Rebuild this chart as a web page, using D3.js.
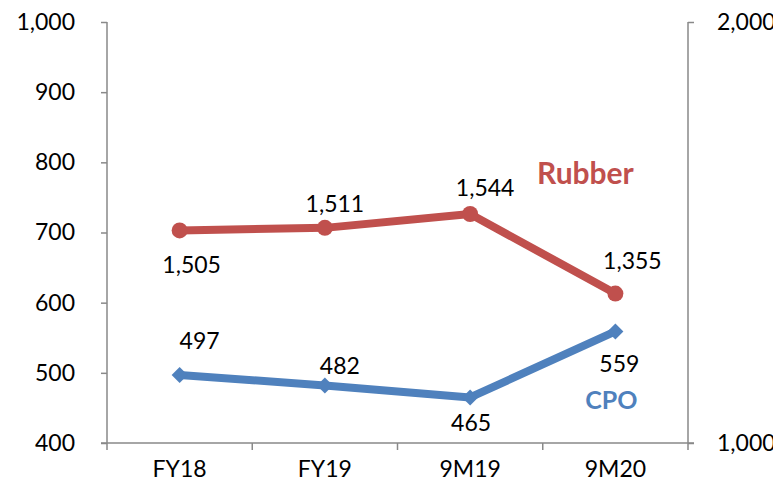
<!DOCTYPE html>
<html>
<head>
<meta charset="utf-8">
<script src="https://cdn.jsdelivr.net/npm/d3@7"></script>
<style>
  body { margin: 0; background: #fff; }
  svg text { font-family: Lato, "Open Sans", sans-serif; }
</style>
</head>
<body>
<div id="chart"></div>
<script>
// Data
const periods = ['FY18', 'FY19', '9M19', '9M20'];
const cpo = [497, 482, 465, 559];          // left axis
const rubber = [1505, 1511, 1544, 1355];   // right axis
const leftTicks = [400, 500, 600, 700, 800, 900, 1000];
const rightTicks = [1000, 2000];

// label placement (dx, dy from point)
const rubberLabelPos = [[12, 34], [10, -25], [15, -27], [17, -34]];
const cpoLabelPos = [[20, -35], [15, -20], [1, 25], [4, 32]];

const W = 773, H = 487;
const margin = { top: 22, right: 85, bottom: 44, left: 107 };
const width = W - margin.left - margin.right;
const height = H - margin.top - margin.bottom;
const fs = '23px';

const svg = d3.select('#chart').append('svg')
    .attr('width', W).attr('height', H)
    .append('g')
    .attr('transform', `translate(${margin.left},${margin.top})`);

const x = d3.scaleBand().domain(periods).range([0, width]);
const yL = d3.scaleLinear().domain([400, 1000]).range([height, 0]);
const yR = d3.scaleLinear().domain([1000, 2000]).range([height, 0]);
const cx = d => x(d) + x.bandwidth() / 2;

const fmt = d3.format(',');
const axisColor = '#898989';

// Left axis
const gL = svg.append('g')
    .call(d3.axisLeft(yL).tickValues(leftTicks).tickFormat(fmt).tickSize(6).tickPadding(26));
// Right axis (labels run off the page edge, as in the original)
const gR = svg.append('g')
    .attr('transform', `translate(${width},0)`)
    .call(d3.axisRight(yR).tickValues(rightTicks).tickFormat(fmt).tickSize(6).tickPadding(23));
// Bottom axis
const gB = svg.append('g')
    .attr('transform', `translate(0,${height})`)
    .call(d3.axisBottom(x).tickSize(0).tickPadding(16));

// category separators on bottom axis
gB.selectAll('.sep')
    .data(d3.range(periods.length + 1))
    .enter().append('line')
    .attr('class', 'sep')
    .attr('x1', i => i * x.step()).attr('x2', i => i * x.step())
    .attr('y1', 0).attr('y2', 7)
    .attr('stroke', axisColor).attr('stroke-width', 1.5);

[gL, gR, gB].forEach(g => {
    g.selectAll('.domain').attr('stroke', axisColor).attr('stroke-width', 1.5);
    g.selectAll('.tick line').attr('stroke', axisColor).attr('stroke-width', 1.5);
    g.selectAll('text').attr('fill', '#000').style('font-size', fs);
});
gL.select('.domain').attr('d', `M0,0V${height}`);
gR.select('.domain').attr('d', `M0,0V${height}`);
gB.select('.domain').attr('d', `M-6,0H${width + 6}`);
gB.selectAll('.tick text').attr('dy', '0.8em');

// Lines
const rubberColor = '#C0504D';
const cpoColor = '#4F81BD';

const rubberLine = d3.line().x((d, i) => cx(periods[i])).y(d => yR(d));
const cpoLine = d3.line().x((d, i) => cx(periods[i])).y(d => yL(d));

svg.append('path').datum(rubber)
    .attr('d', rubberLine).attr('fill', 'none')
    .attr('stroke', rubberColor).attr('stroke-width', 8).attr('stroke-linejoin', 'round');
svg.selectAll('.rdot').data(rubber).enter().append('circle')
    .attr('cx', (d, i) => cx(periods[i])).attr('cy', d => yR(d))
    .attr('r', 8).attr('fill', rubberColor);

svg.append('path').datum(cpo)
    .attr('d', cpoLine).attr('fill', 'none')
    .attr('stroke', cpoColor).attr('stroke-width', 8).attr('stroke-linejoin', 'round');
svg.selectAll('.cdot').data(cpo).enter().append('path')
    .attr('transform', (d, i) => `translate(${cx(periods[i])},${yL(d)})`)
    .attr('d', 'M0,-8L8,0L0,8L-8,0Z')
    .attr('fill', cpoColor);

// Data labels
svg.selectAll('.rlab').data(rubber).enter().append('text')
    .attr('x', (d, i) => cx(periods[i]) + rubberLabelPos[i][0])
    .attr('y', (d, i) => yR(d) + rubberLabelPos[i][1])
    .attr('text-anchor', 'middle').attr('dominant-baseline', 'central')
    .style('font-size', fs)
    .text(d => fmt(d));

svg.selectAll('.clab').data(cpo).enter().append('text')
    .attr('x', (d, i) => cx(periods[i]) + cpoLabelPos[i][0])
    .attr('y', (d, i) => yL(d) + cpoLabelPos[i][1])
    .attr('text-anchor', 'middle').attr('dominant-baseline', 'central')
    .style('font-size', fs)
    .text(d => fmt(d));

// Series names
svg.append('text')
    .attr('x', cx('9M20') - 30).attr('y', yR(1505) - 58)
    .attr('text-anchor', 'middle').attr('dominant-baseline', 'central')
    .style('font-size', '30px').style('font-weight', 'bold')
    .attr('fill', rubberColor).text('Rubber');

svg.append('text')
    .attr('x', cx('9M20') - 4).attr('y', yL(462))
    .attr('text-anchor', 'middle').attr('dominant-baseline', 'central')
    .style('font-size', '25px').style('font-weight', 'bold')
    .attr('fill', cpoColor).text('CPO');
</script>
</body>
</html>
